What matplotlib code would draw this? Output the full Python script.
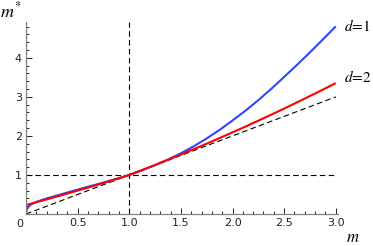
import matplotlib
matplotlib.use("Agg")
import matplotlib.pyplot as plt
from matplotlib.ticker import MultipleLocator

plt.rcParams["mathtext.fontset"] = "stix"

# curve d=1 (blue)
m_d1 = [0, 0.003, 0.01, 0.025, 0.05, 0.1, 0.2, 0.3, 0.4, 0.5, 0.625, 0.75,
        0.875, 1.0, 1.125, 1.25, 1.375, 1.5, 1.625, 1.75, 1.875, 2.0, 2.125,
        2.25, 2.375, 2.5, 2.625, 2.75, 2.875, 3.0]
y_d1 = [0, 0.08, 0.13, 0.19, 0.245, 0.31, 0.40, 0.475, 0.55, 0.625, 0.715,
        0.805, 0.90, 1.0, 1.12, 1.25, 1.395, 1.555, 1.735, 1.935, 2.155,
        2.395, 2.645, 2.915, 3.205, 3.51, 3.82, 4.14, 4.47, 4.805]

# curve d=2 (red)
m_d2 = [0, 0.125, 0.25, 0.375, 0.5, 0.625, 0.75, 0.875, 1.0, 1.125, 1.25,
        1.375, 1.5, 1.625, 1.75, 1.875, 2.0, 2.125, 2.25, 2.375, 2.5, 2.625,
        2.75, 2.875, 3.0]
y_d2 = [0.23, 0.32, 0.41, 0.505, 0.60, 0.695, 0.795, 0.895, 1.0, 1.127,
        1.257, 1.389, 1.524, 1.662, 1.802, 1.945, 2.091, 2.239, 2.390, 2.544,
        2.700, 2.859, 3.021, 3.185, 3.352]

diag = [0, 3]
xticks = [0.5, 1.0, 1.5, 2.0, 2.5, 3.0]
yticks = [1, 2, 3, 4]

fig = plt.figure(figsize=(3.73, 2.46), dpi=100)
ax = fig.add_axes([0.0697, 0.130, 0.836, 0.781])

gray = "#808080"
ax.plot(diag, diag, color="black", lw=0.8, dashes=(5, 3))
ax.plot([0, 3], [1, 1], color="black", lw=0.8, dashes=(5, 3))
ax.plot([1, 1], [0, 4.92], color="black", lw=0.8, dashes=(5, 3))
ax.plot(m_d1, y_d1, color="#3344ff", lw=1.5, solid_capstyle="butt")
ax.plot(m_d2, y_d2, color="#ff0000", lw=1.5, solid_capstyle="butt")

ax.set_xlim(0, 3.02)
ax.set_ylim(0, 4.92)
for s in ["top", "right"]:
    ax.spines[s].set_visible(False)
for s in ["left", "bottom"]:
    ax.spines[s].set_color(gray)
    ax.spines[s].set_linewidth(0.9)

ax.set_xticks(xticks)
ax.set_xticklabels(["0.5", "1.0", "1.5", "2.0", "2.5", "3.0"])
ax.set_yticks(yticks)
ax.set_yticklabels(["1", "2", "3", "4"])
ax.xaxis.set_minor_locator(MultipleLocator(0.1))
ax.yaxis.set_minor_locator(MultipleLocator(0.2))
ax.tick_params(which="both", direction="in", color="black", width=0.6,
               labelsize=8, labelcolor="#222222")
ax.tick_params(which="major", length=4, pad=3)
ax.tick_params(which="minor", length=2)
ax.text(-0.06, -0.12, "0", ha="center", va="top", fontsize=8, color="#222222")

ax.text(-0.25, 5.2, r"$m^{*}$", fontsize=13, ha="left", va="center",
        clip_on=False)
ax.text(3.1, -0.6, r"$m$", fontsize=12, ha="left", va="center",
        clip_on=False)
ax.text(3.08, 4.82, r"$d\!=\!1$", fontsize=11, ha="left", va="center",
        clip_on=False)
ax.text(3.08, 3.5, r"$d\!=\!2$", fontsize=11, ha="left", va="center",
        clip_on=False)

fig.savefig("out.png", dpi=100)
